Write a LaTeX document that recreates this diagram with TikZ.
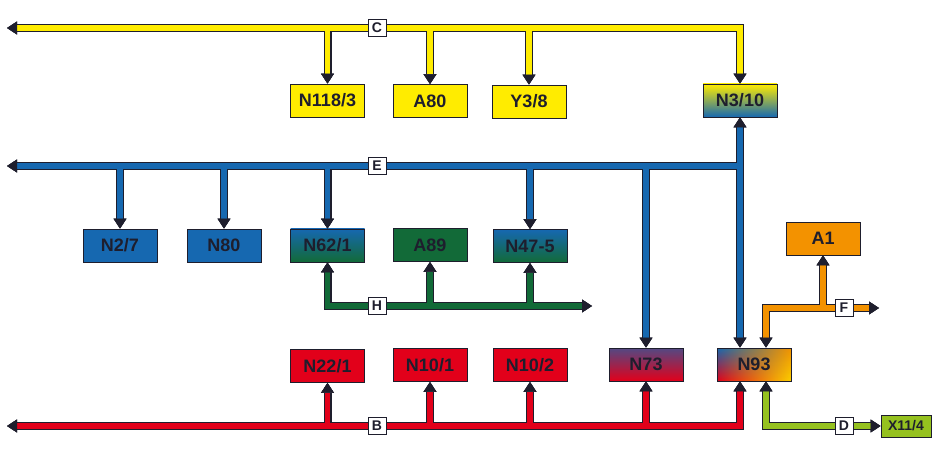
\documentclass[tikz,border=0pt]{standalone}
\usepackage{fontspec}
\setmainfont{Liberation Sans}
\usepackage{xcolor}
\usetikzlibrary{arrows.meta,fadings}

\definecolor{cEdge}{RGB}{30,30,45}
\definecolor{cYel}{RGB}{255,236,0}
\definecolor{cBlu}{RGB}{22,104,176}
\definecolor{cGrn}{RGB}{18,106,56}
\definecolor{cRed}{RGB}{226,0,26}
\definecolor{cOrg}{RGB}{243,146,0}
\definecolor{cLgr}{RGB}{149,193,31}

\tikzfading[name=fadeE, left color=transparent!100, right color=transparent!0]

\begin{document}
\begin{tikzpicture}[x=1pt,y=-1pt, every node/.style={align=center}]
\tikzset{
  unit/.style={draw=cEdge, line width=0.8pt, minimum width=74pt, minimum height=33pt, inner sep=0pt, text=cEdge, font=\fontsize{18}{21}\selectfont\bfseries},
  tag/.style={draw=cEdge, fill=white, line width=0.8pt, minimum width=18pt, minimum height=17pt, inner sep=0pt, text=cEdge, font=\fontsize{14}{16}\selectfont\bfseries},
  arr/.tip={Triangle[length=10pt,width=13pt,line width=0.4pt,color=cEdge]},
  wire/.style 2 args={draw=#2, line width=#1, line join=miter}
}
\useasboundingbox (0,0) rectangle (939,470);

% units, top row
\node[unit, fill=cYel] (n1183) at (327.5,100.5) {N118/3};
\node[unit, fill=cYel] (a80) at (430,101) {A80};
\node[unit, fill=cYel] (y38) at (529,101.5) {Y3/8};
\node[unit, top color=cYel, bottom color=cBlu] (n310) at (740,100.5) {N3/10};
% middle row
\node[unit, fill=cBlu] (n27) at (120,245.5) {N2/7};
\node[unit, fill=cBlu] (n80) at (224,245.5) {N80};
\node[unit, top color=cBlu, bottom color=cGrn] (n621) at (327.5,245.5) {N62/1};
\node[unit, fill=cGrn] (a89) at (430,245) {A89};
\node[unit, top color=cBlu, bottom color=cGrn] (n475) at (530,246) {N47-5};
\node[unit, fill=cOrg] (a1) at (823,238.5) {A1};
% bottom row
\node[unit, fill=cRed] (n221) at (327.5,366) {N22/1};
\node[unit, fill=cRed] (n101) at (430,365) {N10/1};
\node[unit, fill=cRed] (n102) at (530,365) {N10/2};
\node[unit, top color=cBlu!70!cRed, bottom color=cRed] (n73) at (646,364.5) {N73};
\node[unit, top color=cBlu, bottom color=cRed,
  path picture={\shade[top color=cOrg, bottom color=cYel!70!cOrg, path fading=fadeE]
    (path picture bounding box.south west) rectangle (path picture bounding box.north east);}]
  (n93) at (754,364.5) {N93};
\node[unit, fill=cLgr, minimum width=50pt, minimum height=22pt, font=\fontsize{14}{16}\selectfont\bfseries] (x114) at (906,426) {X11/4};

\coordinate (cend) at (7,28);
\coordinate (eend) at (7,166);
\coordinate (hend) at (592,306);
\coordinate (fend) at (879,308);
\coordinate (bend) at (7,426);
\coordinate (n93o) at ([xshift=12pt]n93.north);
\coordinate (n93r) at ([xshift=-14pt]n93.south);
\coordinate (n93d) at ([xshift=12pt]n93.south);

% bus C
\foreach \lw/\col in {8pt/cEdge,5.2pt/cYel}{
  \draw[wire={\lw}{\col}, arr-arr] (cend) -- (cend -| n310) -- (n310.north);
  \foreach \n in {n1183,a80,y38}
    \draw[wire={\lw}{\col}, -arr] (cend -| \n) -- (\n.north);
}
% bus E
\foreach \lw/\col in {8pt/cEdge,5.2pt/cBlu}{
  \draw[wire={\lw}{\col}, arr-] (eend) -- (eend -| n310);
  \draw[wire={\lw}{\col}, arr-arr] (n310.south) -- (n310.south |- n93.north);
  \foreach \n in {n27,n80,n621,n475,n73}
    \draw[wire={\lw}{\col}, -arr] (eend -| \n) -- (\n.north);
}
% bus H
\foreach \lw/\col in {8pt/cEdge,5.2pt/cGrn}{
  \draw[wire={\lw}{\col}, arr-arr] (n621.south) -- (n621.south |- hend) -- (hend);
  \foreach \n in {a89,n475}
    \draw[wire={\lw}{\col}, -arr] (hend -| \n) -- (\n.south);
}
% bus F
\foreach \lw/\col in {8pt/cEdge,5.2pt/cOrg}{
  \draw[wire={\lw}{\col}, arr-arr] (n93o) -- (n93o |- fend) -- (fend);
  \draw[wire={\lw}{\col}, -arr] (fend -| a1) -- (a1.south);
}
% bus B
\foreach \lw/\col in {8pt/cEdge,5.2pt/cRed}{
  \draw[wire={\lw}{\col}, arr-arr] (bend) -- (bend -| n93r) -- (n93r);
  \foreach \n in {n221,n101,n102,n73}
    \draw[wire={\lw}{\col}, -arr] (bend -| \n) -- (\n.south);
}
% bus D
\foreach \lw/\col in {8pt/cEdge,5.2pt/cLgr}{
  \draw[wire={\lw}{\col}, arr-arr] (n93d) -- (n93d |- x114) -- (x114.west);
}

% bus tags
\node[tag] (tc) at (377,28) {C};
\node[tag] (te) at (377,166) {E};
\node[tag] (th) at (377,306) {H};
\node[tag] (tf) at (844,308) {F};
\node[tag] (tb) at (377,426) {B};
\node[tag] (td) at (844,426) {D};
\end{tikzpicture}
\end{document}
